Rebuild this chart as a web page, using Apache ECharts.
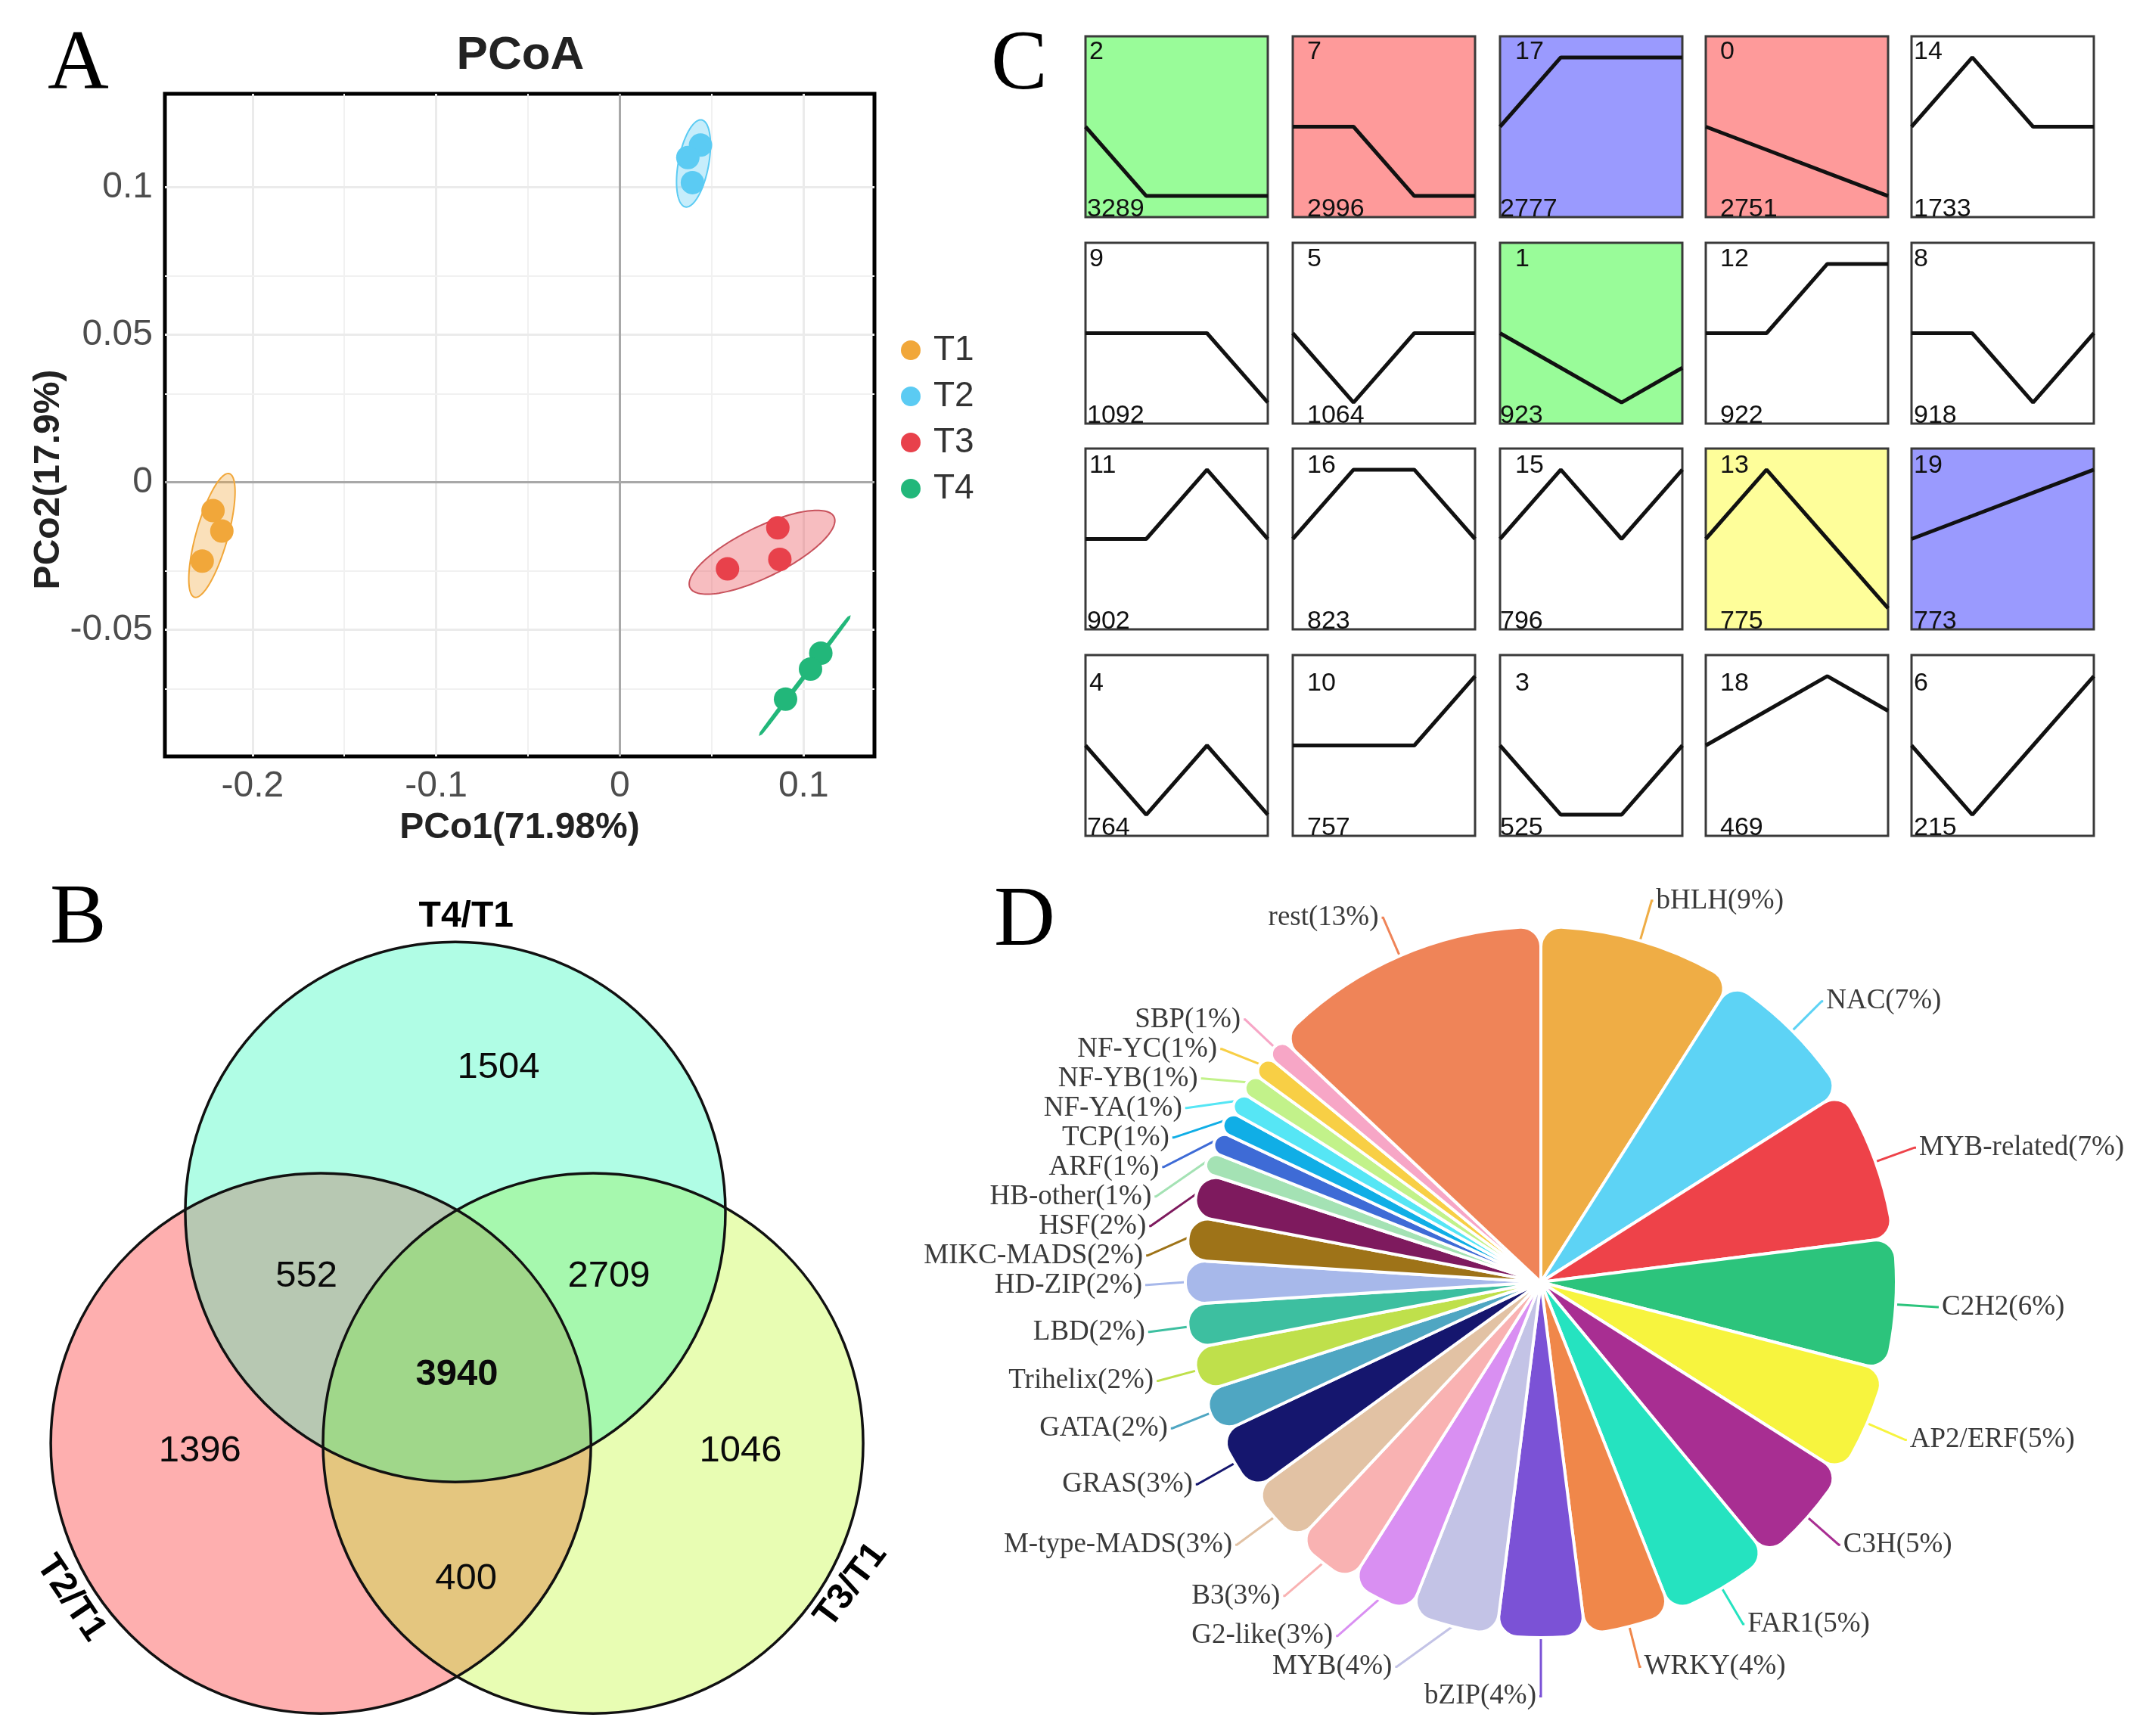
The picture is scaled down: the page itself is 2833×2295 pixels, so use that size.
<!DOCTYPE html>
<html><head><meta charset="utf-8">
<script src="https://cdn.jsdelivr.net/npm/echarts@6/dist/echarts.min.js"></script>
<style>html,body{margin:0;padding:0;background:#fff}#c{width:2833px;height:2295px}</style>
</head><body><div id="c"></div>
<script>
// ---------- Panel A: PCoA ----------
const groups = ['T1', 'T2', 'T3', 'T4'];
const groupColors = ['#F1A73A', '#5BCBF3', '#E8414B', '#22B77A'];
const t1Points = [[-0.2215, -0.0096], [-0.2167, -0.0165], [-0.2274, -0.0267]];
const t2Points = [[0.0439, 0.1143], [0.0370, 0.1101], [0.0395, 0.1016]];
const t3Points = [[0.0860, -0.0154], [0.0871, -0.0261], [0.0586, -0.0293]];
const t4Points = [[0.1094, -0.0579], [0.1038, -0.0633], [0.0902, -0.0735]];
// ellipse: centre x, centre y, semi-axis u (dx, dy), semi-axis v (dx, dy)
const t1Ellipse = [-0.2221, -0.0180, 0.00947, 0.02095, 0.00831, -0.00146];
const t2Ellipse = [0.0401, 0.1081, 0.00444, 0.01474, 0.00811, -0.00095];
const t3Ellipse = [0.0774, -0.0237, 0.0392, 0.0120, 0.00597, -0.00760];
const t4Ellipse = [0.1007, -0.0655, 0.02383, 0.01954, 0.00033, -0.000155];
const xTickValues = [-0.2, -0.1, 0, 0.1];
const yTickValues = [-0.05, 0, 0.05, 0.1];
const xMinorValues = [-0.15, -0.05, 0.05];
const yMinorValues = [-0.075, -0.025, 0.025, 0.075];
const xAxisTitle = 'PCo1(71.98%)';
const yAxisTitle = 'PCo2(17.9%)';

// ---------- Panel C: expression profiles ----------
const clusterIds = [2, 7, 17, 0, 14, 9, 5, 1, 12, 8, 11, 16, 15, 13, 19, 4, 10, 3, 18, 6];
const clusterCounts = [3289, 2996, 2777, 2751, 1733, 1092, 1064, 923, 922, 918, 902, 823, 796, 775, 773, 764, 757, 525, 469, 215];
const clusterProfiles = [
  [0, -1, -1, -1], [0, 0, -1, -1], [0, 1, 1, 1], [0, -0.333, -0.667, -1], [0, 1, 0, 0],
  [0, 0, 0, -1], [0, -1, 0, 0], [0, -0.5, -1, -0.5], [0, 0, 1, 1], [0, 0, -1, 0],
  [0, 0, 1, 0], [0, 1, 1, 0], [0, 1, 0, 1], [0, 1, 0, -1], [0, 0.333, 0.667, 1],
  [0, -1, 0, -1], [0, 0, 0, 1], [0, -1, -1, 0], [0, 0.5, 1, 0.5], [0, -1, 0, 1]
];
const clusterFill = ['g', 'r', 'b', 'r', '', '', '', 'g', '', '', '', '', '', 'y', 'b', '', '', '', '', ''];
const fillColors = { g: '#99FC99', r: '#FE9A9A', b: '#9A9AFE', y: '#FEFE9A', '': '#FFFFFF' };

// ---------- Panel B: Venn ----------
const vennSets = ['T4/T1', 'T2/T1', 'T3/T1'];
const vennSetColors = ['#B0FDE5', '#FEAFAF', '#E8FDB3'];
const vennPairs = [[0, 1], [0, 2], [1, 2]];
const vennPairColors = ['#B7C8B2', '#A6F8AE', '#E4C67F'];
const vennCoreColor = '#A0D78A';
const vennRegionCounts = [1504, 552, 2709, 3940, 1396, 1046, 400];

// ---------- Panel D: TF families ----------
const tfNames = ['bHLH', 'NAC', 'MYB-related', 'C2H2', 'AP2/ERF', 'C3H', 'FAR1', 'WRKY', 'bZIP', 'MYB', 'G2-like', 'B3', 'M-type-MADS', 'GRAS', 'GATA', 'Trihelix', 'LBD', 'HD-ZIP', 'MIKC-MADS', 'HSF', 'HB-other', 'ARF', 'TCP', 'NF-YA', 'NF-YB', 'NF-YC', 'SBP', 'rest'];
const tfPercent = [9, 7, 7, 6, 5, 5, 5, 4, 4, 4, 3, 3, 3, 3, 2, 2, 2, 2, 2, 2, 1, 1, 1, 1, 1, 1, 1, 13];
const tfColors = ['#EFAD45', '#5DD3F5', '#EE4249', '#2CC47C', '#F7F43E', '#A82E92', '#25E3C0', '#F0874A', '#7B52D6', '#C3C3E6', '#D98FF2', '#F9B2B2', '#E2C2A4', '#15166E', '#4FA6C2', '#BFE04B', '#3DBFA0', '#A7B8EA', '#9E7318', '#7E1A5E', '#A4E2B4', '#3E6BD6', '#10AEE6', '#56E6F5', '#C2F28A', '#F8CF45', '#F7A6C6', '#EF8458'];

// ---------- layout ----------
const SANS = "'Liberation Sans', Arial, Helvetica, sans-serif";
const SERIF = "'Liberation Serif', 'Times New Roman', serif";
const A_GRID = { left: 218, top: 124, width: 938, height: 876 };
const C_COLS = [1435, 1709, 1983, 2255, 2527];
const C_ROWS = [48, 321, 593, 866];
const C_W = 241, C_H = 239;
const C_ID_DX = [5, 19, 20, 19, 3];
const C_CNT_DX = [2, 19, 0, 19, 3];
const C_ID_DY = [10, 11, 12, 27];
const VENN_CIRCLES = [[-0.006, 0.571, 1], [-0.504, -0.286, 1], [0.504, -0.286, 1]];
const VENN_REGION_POS = [[0.154, 1.106], [-0.557, 0.333], [0.563, 0.333], [0, -0.031], [-0.952, -0.314], [1.050, -0.314], [0.034, -0.790]];
const VENN_LABEL_POS = [[0.034, 1.664, 0], [-1.43, -0.86, -56], [1.459, -0.812, 53]];

const chart = echarts.init(document.getElementById('c'), null, { renderer: 'canvas' });

function renderEllipse(params, api) {
  const v = [0, 1, 2, 3, 4, 5].map(i => api.value(i));
  const pts = [];
  for (let i = 0; i < 144; i++) {
    const t = i / 144 * Math.PI * 2;
    pts.push(api.coord([v[0] + Math.cos(t) * v[2] + Math.sin(t) * v[4], v[1] + Math.cos(t) * v[3] + Math.sin(t) * v[5]]));
  }
  const col = api.visual('color');
  return { type: 'polygon', shape: { points: pts }, style: { fill: echarts.color.modifyAlpha(col, params.seriesName === 'T4e' ? 1 : 0.35), stroke: params.seriesName === 'T3e' ? '#C8525C' : col, lineWidth: params.seriesName === 'T4e' ? 4 : 2 } };
}

function circlePx(api, c) {
  const p = api.coord([c[0], c[1]]);
  return { x: p[0], y: p[1], r: api.size([c[2], 0])[0] };
}

const grids = [], xAxes = [], yAxes = [], series = [], graphics = [];

// Panel A grid
grids.push({ left: A_GRID.left, top: A_GRID.top, width: A_GRID.width, height: A_GRID.height, show: true, borderColor: '#000', borderWidth: 5, backgroundColor: 'transparent' });
xAxes.push({ gridIndex: 0, type: 'value', min: -0.2477, max: 0.1386, axisLine: { show: false }, splitLine: { show: false },
  axisTick: { show: true, customValues: xTickValues, length: 10, lineStyle: { color: '#333', width: 3 } },
  axisLabel: { customValues: xTickValues, fontSize: 48, fontFamily: SANS, color: '#4D4D4D', margin: 16, formatter: v => String(+v.toFixed(3)) } });
yAxes.push({ gridIndex: 0, type: 'value', min: -0.0929, max: 0.1317, axisLine: { show: false }, splitLine: { show: false },
  axisTick: { show: true, customValues: yTickValues, length: 10, lineStyle: { color: '#333', width: 3 } },
  axisLabel: { customValues: yTickValues, fontSize: 48, fontFamily: SANS, color: '#4D4D4D', margin: 16, formatter: v => String(+v.toFixed(3)) } });

const gridLines = [];
xTickValues.filter(v => v !== 0).forEach(v => gridLines.push({ xAxis: v, lineStyle: { color: '#EBEBEB', width: 3, type: 'solid' } }));
xMinorValues.forEach(v => gridLines.push({ xAxis: v, lineStyle: { color: '#F1F1F1', width: 2, type: 'solid' } }));
yTickValues.filter(v => v !== 0).forEach(v => gridLines.push({ yAxis: v, lineStyle: { color: '#EBEBEB', width: 3, type: 'solid' } }));
yMinorValues.forEach(v => gridLines.push({ yAxis: v, lineStyle: { color: '#F1F1F1', width: 2, type: 'solid' } }));
gridLines.push({ xAxis: 0, lineStyle: { color: '#A8A8A8', width: 3, type: 'solid' } });
gridLines.push({ yAxis: 0, lineStyle: { color: '#A8A8A8', width: 3, type: 'solid' } });

const ellipses = [t1Ellipse, t2Ellipse, t3Ellipse, t4Ellipse];
const points = [t1Points, t2Points, t3Points, t4Points];
groups.forEach((g, i) => {
  series.push({ name: g + 'e', type: 'custom', xAxisIndex: 0, yAxisIndex: 0, z: 2, silent: true,
    itemStyle: { color: groupColors[i] }, renderItem: renderEllipse,
    dimensions: ['cx', 'cy', 'ux', 'uy', 'vx', 'vy'], encode: { x: 0, y: 1 }, data: [ellipses[i]] });
});
groups.forEach((g, i) => {
  const s = { name: g, type: 'scatter', xAxisIndex: 0, yAxisIndex: 0, z: 3, symbol: 'circle', symbolSize: 31,
    itemStyle: { color: groupColors[i], opacity: 1 }, data: points[i] };
  if (i === 0) s.markLine = { silent: true, symbol: 'none', z: 1, label: { show: false }, animation: false, data: gridLines };
  series.push(s);
});

// Panel C grids
clusterIds.forEach((id, k) => {
  const col = k % 5, row = Math.floor(k / 5);
  const gi = grids.length;
  grids.push({ left: C_COLS[col], top: C_ROWS[row], width: C_W, height: C_H, show: true,
    backgroundColor: fillColors[clusterFill[k]], borderColor: '#3A3A3A', borderWidth: 3 });
  xAxes.push({ gridIndex: gi, type: 'value', min: 0, max: 3, show: false });
  yAxes.push({ gridIndex: gi, type: 'value', min: -1.305, max: 1.305, show: false });
  series.push({ type: 'line', xAxisIndex: gi, yAxisIndex: gi, symbol: 'none', silent: true, z: 3,
    lineStyle: { color: '#111', width: 5 }, data: clusterProfiles[k].map((v, t) => [t, v]) });
  graphics.push({ type: 'text', z: 10, style: { text: String(id), x: C_COLS[col] + C_ID_DX[col], y: C_ROWS[row] + C_ID_DY[row] - 6,
    fontSize: 34, fontFamily: SANS, fill: '#111', align: 'left', verticalAlign: 'top' } });
  graphics.push({ type: 'text', z: 10, style: { text: String(clusterCounts[k]), x: C_COLS[col] + C_CNT_DX[col], y: C_ROWS[row] + C_H + 7,
    fontSize: 34, fontFamily: SANS, fill: '#111', align: 'left', verticalAlign: 'bottom' } });
});

// Panel B Venn grid
const vgi = grids.length;
grids.push({ left: 0, top: 1130, width: 1200, height: 1165, show: false });
xAxes.push({ gridIndex: vgi, type: 'value', min: -1.692, max: 1.669, show: false });
yAxes.push({ gridIndex: vgi, type: 'value', min: -1.370, max: 1.894, show: false });
// single-set discs
series.push({ type: 'custom', xAxisIndex: vgi, yAxisIndex: vgi, silent: true, z: 2,
  renderItem: (params, api) => {
    const c = circlePx(api, VENN_CIRCLES[params.dataIndex]);
    return { type: 'circle', shape: { cx: c.x, cy: c.y, r: c.r }, style: { fill: api.visual('color') } };
  },
  encode: { x: 0, y: 1 },
  data: VENN_CIRCLES.map((c, i) => ({ name: vennSets[i], value: c, itemStyle: { color: vennSetColors[i] } })) });
// pairwise lenses
series.push({ type: 'custom', xAxisIndex: vgi, yAxisIndex: vgi, silent: true, z: 2.1,
  renderItem: (params, api) => {
    const pr = vennPairs[params.dataIndex];
    const a = circlePx(api, VENN_CIRCLES[pr[0]]), b = circlePx(api, VENN_CIRCLES[pr[1]]);
    const r = (a.r + b.r) / 2;
    const d = Math.hypot(b.x - a.x, b.y - a.y);
    const al = Math.acos(Math.min(1, d / (2 * r)));
    const ph = Math.atan2(b.y - a.y, b.x - a.x);
    const pts = [], N = 90;
    for (let k = 0; k <= N; k++) { const t = ph - al + 2 * al * k / N; pts.push([a.x + r * Math.cos(t), a.y + r * Math.sin(t)]); }
    for (let k = 0; k <= N; k++) { const t = ph + Math.PI - al + 2 * al * k / N; pts.push([b.x + r * Math.cos(t), b.y + r * Math.sin(t)]); }
    return { type: 'polygon', shape: { points: pts }, style: { fill: api.visual('color') } };
  },
  encode: { x: 0, y: 1 },
  data: vennPairs.map((p, i) => ({ value: p, itemStyle: { color: vennPairColors[i] } })) });
// triple core
series.push({ type: 'custom', xAxisIndex: vgi, yAxisIndex: vgi, silent: true, z: 2.2,
  renderItem: (params, api) => {
    const cs = VENN_CIRCLES.map(c => circlePx(api, c));
    const cx = (cs[0].x + cs[1].x + cs[2].x) / 3, cy = (cs[0].y + cs[1].y + cs[2].y) / 3;
    const pts = [];
    cs.forEach((c, i) => {
      for (let k = 0; k < 1440; k++) {
        const t = k / 1440 * Math.PI * 2;
        const p = [c.x + c.r * Math.cos(t), c.y + c.r * Math.sin(t)];
        if (cs.every((o, j) => j === i || Math.hypot(p[0] - o.x, p[1] - o.y) <= o.r + 0.5)) pts.push(p);
      }
    });
    pts.sort((p, q) => Math.atan2(p[1] - cy, p[0] - cx) - Math.atan2(q[1] - cy, q[0] - cx));
    return { type: 'polygon', shape: { points: pts }, style: { fill: api.visual('color') } };
  },
  encode: { x: 0, y: 1 },
  data: [{ value: [0, 0], itemStyle: { color: vennCoreColor } }] });
// outlines
series.push({ type: 'custom', xAxisIndex: vgi, yAxisIndex: vgi, silent: true, z: 3,
  renderItem: (params, api) => {
    const c = circlePx(api, VENN_CIRCLES[params.dataIndex]);
    return { type: 'circle', shape: { cx: c.x, cy: c.y, r: c.r }, style: { fill: null, stroke: '#111', lineWidth: 3.5 } };
  },
  encode: { x: 0, y: 1 }, data: VENN_CIRCLES });
series.push({ type: 'scatter', xAxisIndex: vgi, yAxisIndex: vgi, symbolSize: 0.01, itemStyle: { color: '#000' }, silent: true, z: 4,
  data: vennRegionCounts.map((n, i) => ({ value: [VENN_REGION_POS[i][0], VENN_REGION_POS[i][1], n],
    label: { show: true, position: 'inside', formatter: String(n), fontSize: 49, fontFamily: SANS, color: '#0A0A0A', opacity: 1, fontWeight: n === 3940 ? 'bold' : 'normal' } })) });
series.push({ type: 'scatter', xAxisIndex: vgi, yAxisIndex: vgi, symbolSize: 0.01, itemStyle: { color: '#000' }, silent: true, z: 4,
  data: vennSets.map((s, i) => ({ value: [VENN_LABEL_POS[i][0], VENN_LABEL_POS[i][1]],
    label: { show: true, position: 'inside', formatter: s, rotate: VENN_LABEL_POS[i][2], fontSize: 48, fontFamily: SANS, color: '#000', opacity: 1, fontWeight: 'bold' } })) });

// Panel D pie
series.push({ type: 'pie', center: [2037, 1695], radius: [0, 470], startAngle: 90, clockwise: true, silent: true, z: 2,
  itemStyle: { borderRadius: 26, borderColor: '#fff', borderWidth: 4 },
  label: { show: true, position: 'outside', formatter: p => p.name + '(' + p.value + '%)', fontSize: 37, fontFamily: SERIF, color: '#3A3A3A', distanceToLabelLine: 4 },
  labelLine: { show: true, length: 55, length2: 2, smooth: false, lineStyle: { width: 3 } },
  data: tfNames.map((n, i) => ({ name: n, value: tfPercent[i], itemStyle: { color: tfColors[i] }, labelLine: { lineStyle: { color: tfColors[i] } } })) });

// Texts
const letter = (t, x, y) => ({ type: 'text', z: 10, style: { text: t, x: x, y: y, fontSize: 112, fontFamily: SERIF, fill: '#000', align: 'left', verticalAlign: 'middle' } });
graphics.push(letter('A', 63, 88), letter('C', 1310, 88), letter('B', 66, 1217), letter('D', 1314, 1220));
graphics.push({ type: 'text', z: 10, style: { text: 'PCoA', x: 688, y: 74, fontSize: 62, fontWeight: 'bold', fontFamily: SANS, fill: '#222', align: 'center', verticalAlign: 'middle' } });
graphics.push({ type: 'text', z: 10, style: { text: xAxisTitle, x: 687, y: 1095, fontSize: 48, fontWeight: 'bold', fontFamily: SANS, fill: '#222', align: 'center', verticalAlign: 'middle' } });
graphics.push({ type: 'text', z: 10, x: 65, y: 634, rotation: Math.PI / 2, style: { text: yAxisTitle, x: 0, y: 0, fontSize: 48, fontWeight: 'bold', fontFamily: SANS, fill: '#222', align: 'center', verticalAlign: 'middle' } });

chart.setOption({
  animation: false,
  backgroundColor: '#fff',
  legend: { data: groups.map(g => ({ name: g, icon: 'circle' })), orient: 'vertical', left: 1186, top: 435, itemWidth: 26, itemHeight: 26, itemGap: 15,
    textStyle: { fontSize: 46, fontFamily: SANS, color: '#333', padding: [0, 0, 0, 12] }, selectedMode: false },
  grid: grids, xAxis: xAxes, yAxis: yAxes, series: series, graphic: graphics
});
</script></body></html>
